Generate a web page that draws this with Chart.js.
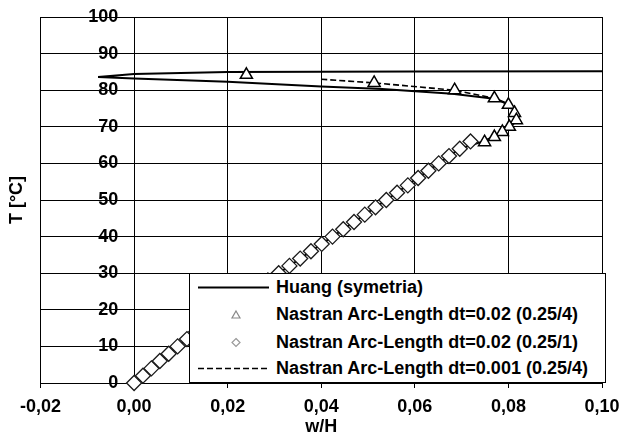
<!DOCTYPE html>
<html>
<head>
<meta charset="utf-8">
<script src="https://cdn.jsdelivr.net/npm/chart.js@4.4.1/dist/chart.umd.min.js"></script>
<style>
body { margin: 0; background: #fff; }
#wrap { position: relative; width: 619px; height: 436px; }
#legend {
  position: absolute; left: 189px; top: 273px; width: 415px; height: 108px;
  background: #fff; border: 1px solid #000;
  font: bold 18px "Liberation Sans", Arial, sans-serif; color: #000;
}
.row { position: absolute; left: 0; width: 100%; height: 27px; line-height: 27px; }
.row svg { position: absolute; left: 7px; top: 0; }
.row span { position: absolute; left: 86px; white-space: nowrap; }
</style>
</head>
<body>
<div id="wrap">
  <canvas id="chart" width="619" height="436"></canvas>
  <div id="legend"></div>
</div>
<script>
// Huang (symetria)
var huangW = [0, 0.0093, 0.0196, 0.0309, 0.0424, 0.0539, 0.0651, 0.0696, 0.0746, 0.0790, 0.0817, 0.0815, 0.0800, 0.0774, 0.0680, 0.0530, 0.0400, 0.0200, 0.0000, -0.0077, 0.0000, 0.0200, 0.0600, 0.1000];
var huangT = [0, 10, 20, 30, 40, 50, 60, 64, 66, 68.6, 71.5, 74.0, 76.2, 77.6, 79.0, 80.3, 81.0, 82.3, 83.2, 83.6, 84.4, 85.0, 85.1, 85.2];

// Nastran Arc-Length dt=0.02 (0.25/4)
var triW = [0.0240, 0.0513, 0.0685, 0.0770, 0.0800, 0.0813, 0.0817, 0.0802, 0.0787, 0.0770, 0.0749];
var triT = [84.2, 82.0, 80.0, 77.8, 76.0, 73.8, 71.8, 70.0, 68.6, 67.2, 65.8];

// Nastran Arc-Length dt=0.02 (0.25/1)
var diaW = [0, 0.0019, 0.0037, 0.0055, 0.0074, 0.0093, 0.0113, 0.0133, 0.0154, 0.0175, 0.0196, 0.0218, 0.0240, 0.0263, 0.0286, 0.0309, 0.0332, 0.0355, 0.0378, 0.0401, 0.0424, 0.0447, 0.0470, 0.0493, 0.0516, 0.0539, 0.0562, 0.0585, 0.0607, 0.0629, 0.0651, 0.0673, 0.0696, 0.0719];
var diaT = [0, 2, 4, 6, 8, 10, 12, 14, 16, 18, 20, 22, 24, 26, 28, 30, 32, 34, 36, 38, 40, 42, 44, 46, 48, 50, 52, 54, 56, 58, 60, 62, 64, 66];

// Nastran Arc-Length dt=0.001 (0.25/4)
var dashW = [0.0400, 0.0513, 0.0685, 0.0770, 0.0800, 0.0813, 0.0817, 0.0802, 0.0787, 0.0770, 0.0749];
var dashT = [83.0, 82.0, 80.0, 77.8, 76.0, 73.8, 71.8, 70.0, 68.6, 67.2, 65.8];

var legendLabels = ["Huang (symetria)", "Nastran Arc-Length dt=0.02 (0.25/4)", "Nastran Arc-Length dt=0.02 (0.25/1)", "Nastran Arc-Length dt=0.001 (0.25/4)"];

function pts(xs, ys) {
  var out = [];
  for (var i = 0; i < xs.length; i++) out.push({x: xs[i], y: ys[i]});
  return out;
}

var font = {family: "'Liberation Sans', Arial, sans-serif", size: 18, weight: 'bold'};
var titleFont = {family: "'Liberation Sans', Arial, sans-serif", size: 18, weight: 'bold', lineHeight: 1.0};

var chart = new Chart(document.getElementById("chart"), {
  type: 'scatter',
  data: {
    datasets: [
      {
        label: legendLabels[1], data: pts(triW, triT), order: 1,
        pointStyle: 'triangle', pointRadius: 7, borderWidth: 1.5,
        borderColor: '#000', backgroundColor: '#fff', showLine: false
      },
      {
        label: legendLabels[2], data: pts(diaW, diaT), order: 2, clip: false,
        pointStyle: 'rectRot', pointRadius: 7.5, borderWidth: 1.3,
        borderColor: '#1a1a1a', backgroundColor: '#fff', showLine: false
      },
      {
        label: legendLabels[3], data: pts(dashW, dashT), order: 3,
        showLine: true, borderColor: '#000', borderWidth: 1.6, borderDash: [6, 3],
        pointRadius: 0, tension: 0
      },
      {
        label: legendLabels[0], data: pts(huangW, huangT), order: 4,
        showLine: true, borderColor: '#000', borderWidth: 2,
        pointRadius: 0, tension: 0
      }
    ]
  },
  options: {
    responsive: false,
    animation: false,
    layout: {autoPadding: false, padding: {left: 0, top: 17, right: 0, bottom: 0}},
    plugins: {legend: {display: false}, tooltip: {enabled: false}},
    scales: {
      x: {
        type: 'linear', min: -0.02, max: 0.10,
        grid: {color: '#000', lineWidth: 1, tickLength: 5},
        border: {color: '#000'},
        ticks: {
          stepSize: 0.02, color: '#000', font: font, padding: 8,
          callback: function (v) { return v.toFixed(2).replace('.', ','); }
        },
        title: {display: true, text: 'w/H', color: '#000', font: titleFont, padding: 0},
        afterFit: function (scale) {
          scale.height = 53;
          scale.paddingLeft = 0;
          scale.paddingRight = 17;
        }
      },
      y: {
        type: 'linear', min: 0, max: 100,
        grid: {color: '#000', lineWidth: 1, drawTicks: false},
        border: {color: '#000'},
        ticks: {stepSize: 10, display: false},
        title: {display: true, text: 'T [°C]', color: '#000', font: font, padding: {top: 6, bottom: 12}},
        afterFit: function (scale) { scale.width = 40.5; }
      },
      yl: {
        type: 'linear', axis: 'y', min: 0, max: 100, position: {x: -0.0034},
        grid: {display: false, drawTicks: false},
        border: {display: false},
        ticks: {stepSize: 10, color: '#000', font: font, padding: 0}
      }
    }
  }
});

// Legend box (drawn over the plot like the original)
var legend = document.getElementById("legend");
var samples = [
  '<line x1="1" y1="13.5" x2="72" y2="13.5" stroke="#000" stroke-width="2"/>',
  '<polygon points="39,10 43,17 35,17" fill="#fff" stroke="#888" stroke-width="1.2"/>',
  '<polygon points="39,9.5 43,13.5 39,17.5 35,13.5" fill="#fff" stroke="#999" stroke-width="1.2"/>',
  '<line x1="1" y1="13.5" x2="72" y2="13.5" stroke="#000" stroke-width="1.6" stroke-dasharray="6,3"/>'
];
var rowTops = [0, 27, 55, 81];
for (var i = 0; i < legendLabels.length; i++) {
  var row = document.createElement("div");
  row.className = "row";
  row.style.top = rowTops[i] + "px";
  row.innerHTML = '<svg width="75" height="27">' + samples[i] + '</svg><span>' + legendLabels[i] + '</span>';
  legend.appendChild(row);
}
</script>
</body>
</html>
